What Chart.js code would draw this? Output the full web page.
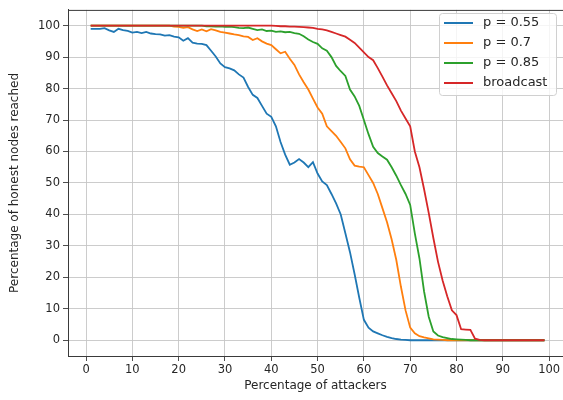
<!DOCTYPE html>
<html>
<head>
<meta charset="utf-8">
<script src="https://cdn.jsdelivr.net/npm/chart.js@4.4.0/dist/chart.umd.min.js"></script>
<style>
  html, body { margin: 0; padding: 0; background: #fff; }
  #wrap { width: 563px; height: 400px; }
</style>
</head>
<body>
<div id="wrap"><canvas id="alcanceChart" width="563" height="400"></canvas></div>
<script>
// eixo x: percentagem de atacantes na rede
const atacantes = [
  1, 2, 3, 4, 5, 6, 7, 8, 9, 10, 11, 12, 13, 14, 15, 16, 17, 18, 19, 20,
  21, 22, 23, 24, 25, 26, 27, 28, 29, 30, 31, 32, 33, 34, 35, 36, 37, 38, 39, 40,
  41, 42, 43, 44, 45, 46, 47, 48, 49, 50, 51, 52, 53, 54, 55, 56, 57, 58, 59, 60,
  61, 62, 63, 64, 65, 66, 67, 68, 69, 70, 71, 72, 73, 74, 75, 76, 77, 78, 79, 80,
  81, 82, 83, 84, 85, 86, 87, 88, 89, 90, 91, 92, 93, 94, 95, 96, 97, 98, 99
];

// percentagem de nós honestos alcançados
const p055 = [
  99, 99, 99, 99.2, 98.5, 98, 99, 98.6, 98.3, 97.8, 98, 97.6, 98, 97.5, 97.3, 97.2, 96.8, 97, 96.5, 96.3,
  95.2, 96, 94.6, 94.3, 94.2, 93.8, 92, 90.2, 88, 86.8, 86.4, 85.8, 84.5, 83.5, 80.5, 78, 77, 74.5, 72, 71,
  68, 63, 59, 55.8, 56.5, 57.6, 56.5, 55, 56.6, 53, 50.5, 49.3, 46.5, 43.5, 40, 34, 28, 21, 13.5, 6.5,
  4, 2.8, 2.2, 1.6, 1.1, 0.7, 0.4, 0.2, 0.1, 0, 0, 0, 0, 0, 0, 0, 0, 0, 0, 0,
  0, 0, 0, 0, 0, 0, 0, 0, 0, 0, 0, 0, 0, 0, 0, 0, 0, 0, 0
];
const p07 = [
  100, 100, 100, 100, 100, 100, 100, 100, 100, 100, 100, 100, 100, 100, 100, 100, 100, 100, 99.7, 99.6,
  99.3, 99.5, 98.8, 98.3, 98.8, 98.2, 98.9, 98.5, 98, 97.8, 97.5, 97.2, 97, 96.6, 96.4, 95.4, 96, 95, 94.3, 93.8,
  92.5, 91.2, 91.7, 89.5, 87.5, 84.5, 82, 79.7, 76.8, 74, 72, 68, 66.5, 65, 63, 61, 57.5, 55.5, 55.2, 55,
  52.5, 50, 46.5, 42, 37.5, 32, 25.5, 17, 9.5, 4, 2.2, 1.3, 0.9, 0.6, 0.3, 0.2, 0.1, 0, 0, 0,
  0, 0, 0, 0, 0, 0, 0, 0, 0, 0, 0, 0, 0, 0, 0, 0, 0, 0, 0
];
const p085 = [
  100, 100, 100, 100, 100, 100, 100, 100, 100, 100, 100, 100, 100, 100, 100, 100, 100, 100, 100, 100,
  100, 100, 100, 100, 100, 99.8, 99.8, 99.7, 99.8, 99.6, 99.7, 99.5, 99.3, 99.2, 99.4, 99, 98.6, 98.8, 98.3, 98.4,
  98, 98.2, 97.9, 98, 97.6, 97.4, 96.6, 95.6, 94.8, 94.2, 92.8, 92, 90, 87.2, 85.5, 84, 79.7, 77.5, 74.5, 70,
  65.5, 61.5, 59.5, 58.4, 57.4, 55, 52.3, 49.3, 46.5, 43, 34, 26, 15.5, 7.5, 2.8, 1.5, 1, 0.7, 0.4, 0.3,
  0.2, 0.1, 0, 0, 0, 0, 0, 0, 0, 0, 0, 0, 0, 0, 0, 0, 0, 0, 0
];
const broadcast = [
  100, 100, 100, 100, 100, 100, 100, 100, 100, 100, 100, 100, 100, 100, 100, 100, 100, 100, 100, 100,
  100, 100, 100, 100, 100, 100, 100, 100, 100, 100, 100, 100, 100, 100, 100, 100, 100, 100, 100, 100,
  99.9, 99.8, 99.8, 99.7, 99.7, 99.6, 99.5, 99.4, 99.3, 99, 98.8, 98.5, 98, 97.5, 97, 96.5, 95.5, 94.5, 93, 91.5,
  90, 89, 86.5, 83.8, 81, 78.5, 76, 73, 70.5, 68, 60, 55, 48, 40.5, 32.5, 25, 19, 14, 9.5, 8,
  3.5, 3.4, 3.3, 0.5, 0.1, 0, 0, 0, 0, 0, 0, 0, 0, 0, 0, 0, 0, 0, 0
];

// marcas dos eixos
const ticksX = [0, 10, 20, 30, 40, 50, 60, 70, 80, 90, 100];
const ticksY = [0, 10, 20, 30, 40, 50, 60, 70, 80, 90, 100];

const legendas = ['p = 0.55', 'p = 0.7', 'p = 0.85', 'broadcast'];
const cores = ['#1f77b4', '#ff7f0e', '#2ca02c', '#d62728'];
const series = [p055, p07, p085, broadcast];

const fonte = 'DejaVu Sans';
const corTexto = '#262626';
const corEixo = '#3a3a3a';
const corGrade = '#c6c6c6';

function pontos(valores) {
  return atacantes.map((a, i) => ({ x: a, y: valores[i] }));
}

// moldura de cima e legenda dentro da área do gráfico
const molduraLegenda = {
  id: 'molduraLegenda',
  afterDraw(chart) {
    const ctx = chart.ctx;
    const area = chart.chartArea;
    ctx.save();
    ctx.strokeStyle = corEixo;
    ctx.lineWidth = 1;
    ctx.beginPath();
    ctx.moveTo(area.left, area.top + 0.5);
    ctx.lineTo(area.right, area.top + 0.5);
    ctx.stroke();

    const bx = 439, by = 13, bw = 117, bh = 82;
    ctx.fillStyle = 'rgba(255,255,255,0.8)';
    ctx.strokeStyle = '#d0d0d0';
    ctx.beginPath();
    ctx.roundRect(bx + 0.5, by + 0.5, bw, bh, 3);
    ctx.fill();
    ctx.stroke();

    ctx.font = '13px "' + fonte + '"';
    ctx.textBaseline = 'middle';
    legendas.forEach((txt, i) => {
      const y = by + 10 + i * 20;
      ctx.strokeStyle = cores[i];
      ctx.lineWidth = 2;
      ctx.beginPath();
      ctx.moveTo(bx + 5, y);
      ctx.lineTo(bx + 34, y);
      ctx.stroke();
      ctx.fillStyle = corTexto;
      ctx.fillText(txt, bx + 44, y);
    });
    ctx.restore();
  }
};

const ctx = document.getElementById('alcanceChart').getContext('2d');
new Chart(ctx, {
  type: 'line',
  data: {
    datasets: series.map((s, i) => ({
      label: legendas[i],
      data: pontos(s),
      borderColor: cores[i],
      backgroundColor: cores[i],
      borderWidth: 1.8,
      pointRadius: 0,
      tension: 0,
      fill: false,
      order: 4 - i
    }))
  },
  options: {
    responsive: false,
    animation: false,
    layout: { padding: { top: 7, right: 0, left: 0, bottom: 0 } },
    plugins: {
      legend: { display: false },
      tooltip: { enabled: false }
    },
    scales: {
      x: {
        type: 'linear',
        min: -3.9,
        max: 103.0,
        afterFit: (scale) => { scale.height = 44; },
        afterBuildTicks: (scale) => { scale.ticks = ticksX.map(v => ({ value: v })); },
        ticks: {
          color: corTexto,
          padding: 2,
          maxRotation: 0,
          font: { family: fonte, size: 11.5 }
        },
        grid: {
          color: corGrade,
          lineWidth: 0.9,
          tickLength: 5,
          tickColor: corEixo
        },
        border: { color: corEixo, width: 1 },
        title: {
          display: true,
          text: 'Percentage of attackers',
          color: corTexto,
          padding: { top: 0, bottom: 7 },
          font: { family: fonte, size: 12 }
        }
      },
      y: {
        min: -5,
        max: 105,
        afterFit: (scale) => { scale.width = 68; },
        afterBuildTicks: (scale) => { scale.ticks = ticksY.map(v => ({ value: v })); },
        ticks: {
          color: corTexto,
          padding: 3,
          font: { family: fonte, size: 11.5 }
        },
        grid: {
          color: corGrade,
          lineWidth: 0.9,
          tickLength: 5,
          tickColor: corEixo
        },
        border: { color: corEixo, width: 1 },
        title: {
          display: true,
          text: 'Percentage of honest nodes reached',
          color: corTexto,
          padding: { top: 8, bottom: 0 },
          font: { family: fonte, size: 12 }
        }
      }
    }
  },
  plugins: [molduraLegenda]
});
</script>
</body>
</html>
